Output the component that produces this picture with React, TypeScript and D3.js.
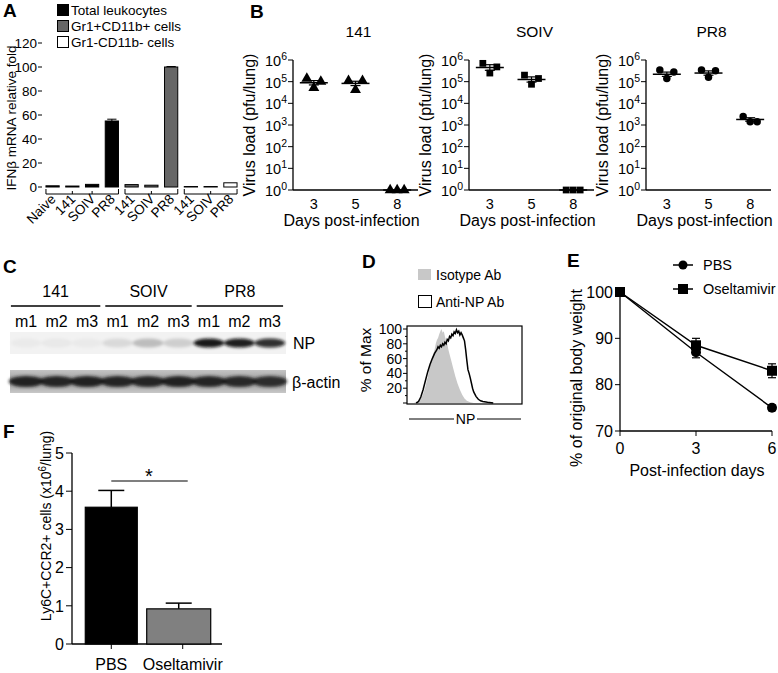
import React from 'react';
import * as d3 from 'd3';

const FONT = 'Liberation Sans, Arial, Helvetica, sans-serif';

// ---------- Panel A data ----------
const aCategories = ['Naive', '141', 'SOIV', 'PR8', '141', 'SOIV', 'PR8', '141', 'SOIV', 'PR8'];
const aGroupOf = [0, 0, 0, 0, 1, 1, 1, 2, 2, 2];
const aValues = [1.0, 0.8, 2.2, 55, 2.0, 1.5, 100, 0.4, 0.4, 3.5];
const aErrors = [0, 0, 0, 1.5, 0, 0, 0.4, 0, 0, 0];
const aSeries = ['Total leukocytes', 'Gr1+CD11b+ cells', 'Gr1-CD11b- cells'];
const aTicks = [0, 20, 40, 60, 80, 100, 120];

// ---------- Panel B data ----------
const bTitles = ['141', 'SOIV', 'PR8'];
const bDays = ['3', '5', '8'];
const bPoints141 = [[1.4e5, 5.2e4, 1.0e5], [1.1e5, 4.2e4, 1.1e5], [1, 1, 1]];
const bPointsSOIV = [[7.0e5, 2.5e5, 4.8e5], [2.0e5, 7.6e4, 1.4e5], [1, 1, 1]];
const bPointsPR8 = [[3.5e5, 1.4e5, 2.8e5], [3.5e5, 1.6e5, 3.2e5], [2.5e3, 1.4e3, 1.4e3]];
const bMean141 = [8.9e4, 8.3e4, 1];
const bMeanSOIV = [4.5e5, 1.26e5, 1];
const bMeanPR8 = [2.2e5, 2.5e5, 1.8e3];
const bErrLog141 = [0.1, 0.1, 0];
const bErrLogSOIV = [0.13, 0.12, 0];
const bErrLogPR8 = [0.1, 0.1, 0.08];
const bTickExps = [0, 1, 2, 3, 4, 5, 6];

// ---------- Panel C data ----------
const cGroups = ['141', 'SOIV', 'PR8'];
const cLanes = ['m1', 'm2', 'm3', 'm1', 'm2', 'm3', 'm1', 'm2', 'm3'];
const cNP = [0.03, 0.04, 0.03, 0.1, 0.22, 0.15, 0.95, 0.93, 0.85];
const cActin = [0.92, 0.9, 0.92, 0.9, 0.9, 0.92, 0.9, 0.88, 0.85];

// ---------- Panel D data ----------
const dIsoX = [6, 9, 12, 14, 16, 18, 20, 22, 24, 25, 26, 27, 28, 29, 30, 31, 32, 33, 34, 35, 36, 37, 38, 40, 42, 44, 46, 48, 50, 52, 55, 58];
const dIsoY = [0, 2, 6, 12, 22, 35, 50, 62, 72, 80, 85, 88, 93, 97, 100, 95, 97, 90, 84, 80, 72, 66, 60, 48, 36, 26, 18, 11, 6, 3, 1, 0];
const dAntiX = [8, 10, 12, 14, 16, 18, 20, 22, 24, 26, 27, 28, 29, 30, 31, 32, 33, 34, 35, 36, 37, 38, 39, 40, 41, 42, 43, 44, 45, 46, 47, 48, 49, 50, 51, 52, 53, 54, 55, 56, 57, 58, 60, 62, 64, 66, 70, 75];
const dAntiY = [0, 2, 8, 18, 30, 42, 52, 60, 67, 72, 76, 74, 78, 76, 80, 78, 82, 80, 86, 84, 90, 88, 93, 91, 96, 94, 99, 95, 97, 92, 95, 92, 88, 84, 72, 58, 45, 40, 34, 27, 20, 15, 9, 5, 3, 2, 1, 0];
const dTicks = [20, 40, 60, 80, 100];
const dLegend = ['Isotype Ab', 'Anti-NP Ab'];

// ---------- Panel E data ----------
const eDays = [0, 3, 6];
const ePBS = [100, 87, 75];
const ePBSErr = [0.3, 1.2, 0.6];
const eOsel = [100, 88.5, 83];
const eOselErr = [0.3, 1.5, 1.5];
const eYTicks = [70, 80, 90, 100];
const eSeries = ['PBS', 'Oseltamivir'];

// ---------- Panel F data ----------
const fCategories = ['PBS', 'Oseltamivir'];
const fValues = [3.58, 0.92];
const fErrors = [0.44, 0.15];
const fTicks = [0, 1, 2, 3, 4, 5];

const PanelLabel = ({ x, y, t }: { x: number; y: number; t: string }) => (
  <text x={x} y={y} fontSize={19} fontWeight="bold">{t}</text>
);

function PanelA() {
  const x = d3.scaleBand<number>().domain(d3.range(aValues.length)).range([43, 240]).paddingInner(0.33).paddingOuter(0.15);
  const y = d3.scaleLinear().domain([0, 120]).range([187, 43]);
  const fills = ['#000', '#666', '#fff'];
  const bw = x.bandwidth();
  const groups = [0, 1, 2].map(g => {
    const idx = d3.range(aValues.length).filter(i => aGroupOf[i] === g);
    return { x1: x(idx[0])!, x2: x(idx[idx.length - 1])! + bw, idx };
  });
  return (
    <g>
      <PanelLabel x={3} y={17} t="A" />
      {aSeries.map((s, i) => (
        <g key={s}>
          <rect x={57.5} y={4.5 + i * 16} width={11} height={11} fill={fills[i]} stroke="#000" />
          <text x={71} y={15 + i * 16} fontSize={13.5}>{s}</text>
        </g>
      ))}
      {aTicks.map(t => (
        <g key={t}>
          <line x1={38} x2={42} y1={y(t)} y2={y(t)} stroke="#000" />
          <text x={37} y={y(t)} dy="0.36em" fontSize={13.5} textAnchor="end">{t}</text>
        </g>
      ))}
      <text transform={`translate(11,${y(60) + 3}) rotate(-90)`} fontSize={13.5} dy="0.35em" textAnchor="middle">IFNβ mRNA relative fold</text>
      {aValues.map((v, i) => (
        <rect key={i} x={x(i)} y={y(v)} width={bw} height={y(0) - y(v)} fill={fills[aGroupOf[i]]} stroke="#000" strokeWidth={1} />
      ))}
      {aErrors.map((e, i) => e > 0 ? (
        <g key={'e' + i} stroke="#000">
          <line x1={x(i)! + bw / 2} x2={x(i)! + bw / 2} y1={y(aValues[i])} y2={y(aValues[i] + e)} />
          <line x1={x(i)! + 2} x2={x(i)! + bw - 2} y1={y(aValues[i] + e)} y2={y(aValues[i] + e)} />
        </g>
      ) : null)}
      {groups.map((g, gi) => (
        <g key={gi} stroke="#000" fill="none">
          <path d={`M${g.x1},189 V194 H${g.x2} V189`} />
          {g.idx.slice(1, -1).map(i => (
            <line key={i} x1={x(i)! + bw / 2} x2={x(i)! + bw / 2} y1={194} y2={191} />
          ))}
        </g>
      ))}
      {aCategories.map((c, i) => (
        <text key={i} transform={`translate(${x(i)! + bw / 2 + 4},${200}) rotate(-45)`} fontSize={13.5} textAnchor="end">{c}</text>
      ))}
    </g>
  );
}

function PanelB() {
  const origins = [293, 469, 646];
  const w = 125;
  const y = d3.scaleLog().domain([1, 1e6]).range([190, 60]);
  const pts = [bPoints141, bPointsSOIV, bPointsPR8];
  const means = [bMean141, bMeanSOIV, bMeanPR8];
  const errs = [bErrLog141, bErrLogSOIV, bErrLogPR8];
  const syms = [d3.symbolTriangle, d3.symbolSquare, d3.symbolCircle];
  const sizes = [52, 46, 44];
  const offs = [-7, 0, 7];
  return (
    <g>
      <PanelLabel x={250} y={18} t="B" />
      {bTitles.map((t, p) => {
        const x0 = origins[p];
        const x = d3.scalePoint<string>().domain(bDays).range([x0, x0 + w]).padding(0.5);
        const sym = d3.symbol().type(syms[p]).size(sizes[p]);
        return (
          <g key={t}>
            <text x={x0 + w / 2 + 3} y={37} fontSize={15.5} textAnchor="middle">{t}</text>
            <line x1={x0} x2={x0} y1={y(1e6)} y2={y(1)} stroke="#000" strokeWidth={1.3} />
            <line x1={x0} x2={x0 + w} y1={y(1)} y2={y(1)} stroke="#000" strokeWidth={1.3} />
            {bTickExps.map(k => (
              <g key={k}>
                <line x1={x0 - 5} x2={x0} y1={y(Math.pow(10, k))} y2={y(Math.pow(10, k))} stroke="#000" />
                <text x={x0 - 6} y={y(Math.pow(10, k))} dy="0.42em" fontSize={14.5} textAnchor="end">
                  10<tspan dy="-6" fontSize={10.5}>{k}</tspan>
                </text>
              </g>
            ))}
            <text transform={`translate(${x0 - 38},${125}) rotate(-90)`} fontSize={16} textAnchor="middle">Virus load (pfu/lung)</text>
            {bDays.map((d) => (
              <text key={d} x={x(d)} y={209} fontSize={14.5} textAnchor="middle">{d}</text>
            ))}
            <text x={x0 + w / 2 - 4} y={226} fontSize={16} textAnchor="middle">Days post-infection</text>
            {bDays.map((d, di) => {
              const cx = x(d)!;
              const m = means[p][di];
              const e = errs[p][di];
              return (
                <g key={'m' + d}>
                  {pts[p][di].map((v, k) => (
                    <path key={k} d={sym()!} transform={`translate(${cx + offs[k]},${y(v)})`} fill="#000" />
                  ))}
                  <line x1={cx - 14} x2={cx + 14} y1={y(m)} y2={y(m)} stroke="#000" strokeWidth={1.5} />
                  {e > 0 && (
                    <g stroke="#000" strokeWidth={1.2}>
                      <line x1={cx} x2={cx} y1={y(m * Math.pow(10, e))} y2={y(m / Math.pow(10, e))} />
                      <line x1={cx - 5} x2={cx + 5} y1={y(m * Math.pow(10, e))} y2={y(m * Math.pow(10, e))} />
                      <line x1={cx - 5} x2={cx + 5} y1={y(m / Math.pow(10, e))} y2={y(m / Math.pow(10, e))} />
                    </g>
                  )}
                </g>
              );
            })}
          </g>
        );
      })}
    </g>
  );
}

function PanelC() {
  const x = d3.scaleBand<number>().domain(d3.range(cLanes.length)).range([10, 286]).padding(0.06);
  const bw = x.bandwidth();
  const step = x.step();
  return (
    <g>
      <PanelLabel x={3} y={273} t="C" />
      <defs>
        <filter id="blotBlur" x="-20%" y="-50%" width="140%" height="200%">
          <feGaussianBlur stdDeviation="1.6" />
        </filter>
        <linearGradient id="actinBg" x1="0" x2="0" y1="0" y2="1">
          <stop offset="0" stopColor="#c4c4c4" />
          <stop offset="0.5" stopColor="#9a9a9a" />
          <stop offset="1" stopColor="#c8c8c8" />
        </linearGradient>
      </defs>
      {cGroups.map((g, gi) => {
        const x1 = x(gi * 3)! - step * 0.03 + (gi === 0 ? 0 : 3);
        const x2 = x(gi * 3 + 2)! + bw + step * 0.03 - 2;
        return (
          <g key={g}>
            <text x={(x1 + x2) / 2} y={297} fontSize={16} textAnchor="middle">{g}</text>
            <line x1={x1} x2={x2} y1={306} y2={306} stroke="#000" strokeWidth={1.3} />
          </g>
        );
      })}
      {cLanes.map((l, i) => (
        <text key={i} x={x(i)! + bw / 2} y={327} fontSize={16} textAnchor="middle">{l}</text>
      ))}
      <rect x={10} y={332} width={276} height={22} fill="#f2f2f2" />
      <g filter="url(#blotBlur)">
        {cNP.map((v, i) => (
          <ellipse key={i} cx={x(i)! + bw / 2} cy={343} rx={bw / 2 + 1} ry={4.5} fill="#111" opacity={v} />
        ))}
      </g>
      <rect x={10} y={370} width={276} height={23} fill="url(#actinBg)" />
      <g filter="url(#blotBlur)">
        {cActin.map((v, i) => (
          <ellipse key={i} cx={x(i)! + bw / 2} cy={381.5} rx={bw / 2 + 3} ry={5.5} fill="#1a1a1a" opacity={v} />
        ))}
      </g>
      <text x={293} y={349} fontSize={16}>NP</text>
      <text x={292} y={388} fontSize={16}>β-actin</text>
    </g>
  );
}

function PanelD() {
  const x = d3.scaleLinear().domain([0, 100]).range([407, 522]);
  const y = d3.scaleLinear().domain([0, 100]).range([403, 329]);
  const area = d3.area<number>().x((_, i) => x(dIsoX[i])).y0(y(0)).y1((d) => y(d));
  const line = d3.line<number>().x((_, i) => x(dAntiX[i])).y((d) => y(d));
  return (
    <g>
      <PanelLabel x={362} y={268} t="D" />
      <rect x={418} y={269} width={13} height={11} fill="#c8c8c8" />
      <text x={436} y={280} fontSize={14}>{dLegend[0]}</text>
      <rect x={418.5} y={295.5} width={13} height={12} fill="#fff" stroke="#000" />
      <text x={436} y={307} fontSize={14}>{dLegend[1]}</text>
      <path d={area(dIsoY)!} fill="#c8c8c8" />
      <path d={line(dAntiY)!} fill="none" stroke="#000" strokeWidth={1.5} />
      <rect x={407} y={326} width={115} height={78} fill="none" stroke="#000" strokeWidth={1.2} />
      {d3.range(0, 101, 10).map(t => (
        <line key={t} x1={t % 20 === 0 ? 403 : 405} x2={407} y1={y(t)} y2={y(t)} stroke="#000" />
      ))}
      {dTicks.map(t => (
        <text key={t} x={402} y={y(t)} dy="0.36em" fontSize={14} textAnchor="end">{t}</text>
      ))}
      <text transform={`translate(371,${360}) rotate(-90)`} fontSize={15.5} textAnchor="middle">% of Max</text>
      <line x1={409} x2={454} y1={419} y2={419} stroke="#000" />
      <line x1={477} x2={521} y1={419} y2={419} stroke="#000" />
      <text x={465.5} y={424} fontSize={14} textAnchor="middle">NP</text>
    </g>
  );
}

function PanelE() {
  const x = d3.scaleLinear().domain([0, 6]).range([620, 772]);
  const y = d3.scaleLinear().domain([70, 100]).range([431, 292]);
  const line = d3.line<number>().x((_, i) => x(eDays[i])).y(d => y(d));
  const errBar = (vals: number[], errs: number[], k: string) => vals.map((v, i) => errs[i] > 0.5 ? (
    <g key={k + i} stroke="#000" strokeWidth={1.2}>
      <line x1={x(eDays[i])} x2={x(eDays[i])} y1={y(v + errs[i])} y2={y(v - errs[i])} />
      <line x1={x(eDays[i]) - 4} x2={x(eDays[i]) + 4} y1={y(v + errs[i])} y2={y(v + errs[i])} />
      <line x1={x(eDays[i]) - 4} x2={x(eDays[i]) + 4} y1={y(v - errs[i])} y2={y(v - errs[i])} />
    </g>
  ) : null);
  return (
    <g>
      <PanelLabel x={567} y={267} t="E" />
      <line x1={673} x2={693} y1={265} y2={265} stroke="#000" strokeWidth={1.5} />
      <circle cx={683} cy={265} r={4.5} fill="#000" />
      <text x={703} y={270} fontSize={14.5}>{eSeries[0]}</text>
      <line x1={673} x2={693} y1={289} y2={289} stroke="#000" strokeWidth={1.5} />
      <rect x={678} y={284} width={10} height={10} fill="#000" />
      <text x={703} y={294} fontSize={14.5}>{eSeries[1]}</text>
      <line x1={620} x2={620} y1={y(100)} y2={y(70)} stroke="#000" strokeWidth={1.3} />
      <line x1={620} x2={772} y1={y(70)} y2={y(70)} stroke="#000" strokeWidth={1.3} />
      {eYTicks.map(t => (
        <g key={t}>
          <line x1={615} x2={620} y1={y(t)} y2={y(t)} stroke="#000" />
          <text x={613} y={y(t)} dy="0.36em" fontSize={16} textAnchor="end">{t}</text>
        </g>
      ))}
      {eDays.map(d => (
        <g key={d}>
          <line x1={x(d)} x2={x(d)} y1={y(70)} y2={y(70) + 5} stroke="#000" />
          <text x={x(d)} y={454} fontSize={16} textAnchor="middle">{d}</text>
        </g>
      ))}
      <text x={697} y={476} fontSize={16} textAnchor="middle">Post-infection days</text>
      <text transform={`translate(582,${378}) rotate(-90)`} fontSize={16} textAnchor="middle">% of original body weight</text>
      <path d={line(ePBS)!} fill="none" stroke="#000" strokeWidth={1.4} />
      <path d={line(eOsel)!} fill="none" stroke="#000" strokeWidth={1.4} />
      {errBar(ePBS, ePBSErr, 'p')}
      {errBar(eOsel, eOselErr, 'o')}
      {ePBS.map((v, i) => <circle key={'pc' + i} cx={x(eDays[i])} cy={y(v)} r={5} fill="#000" />)}
      {eOsel.map((v, i) => <rect key={'os' + i} x={x(eDays[i]) - 5} y={y(v) - 5} width={10} height={10} fill="#000" />)}
    </g>
  );
}

function PanelF() {
  const x = d3.scaleBand<string>().domain(fCategories).range([72, 222]).paddingInner(0.3).paddingOuter(0.2);
  const y = d3.scaleLinear().domain([0, 5]).range([644, 453]);
  const fills = ['#000', '#808080'];
  const widths = [52, 64];
  return (
    <g>
      <PanelLabel x={3} y={438} t="F" />
      <line x1={72} x2={72} y1={y(5)} y2={y(0)} stroke="#000" strokeWidth={1.3} />
      <line x1={72} x2={222} y1={y(0)} y2={y(0)} stroke="#000" strokeWidth={1.3} />
      {fTicks.map(t => (
        <g key={t}>
          <line x1={66} x2={72} y1={y(t)} y2={y(t)} stroke="#000" />
          <text x={64} y={y(t)} dy="0.36em" fontSize={16} textAnchor="end">{t}</text>
        </g>
      ))}
      <text transform={`translate(51,${526}) rotate(-90)`} fontSize={14} textAnchor="middle">
        Ly6C+CCR2+ cells (x10<tspan dy="-5" fontSize={10}>6</tspan><tspan dy="5">/lung)</tspan>
      </text>
      {fCategories.map((c, i) => {
        const cx = x(c)! + x.bandwidth() / 2;
        const bx = cx - widths[i] / 2 - (i === 1 ? 4 : 0);
        const top = y(fValues[i] + fErrors[i]);
        return (
          <g key={c}>
            <line x1={bx + widths[i] / 2} x2={bx + widths[i] / 2} y1={top} y2={y(fValues[i])} stroke="#000" strokeWidth={1.5} />
            <line x1={bx + widths[i] / 2 - 13} x2={bx + widths[i] / 2 + 13} y1={top} y2={top} stroke="#000" strokeWidth={1.5} />
            <rect x={bx} y={y(fValues[i])} width={widths[i]} height={y(0) - y(fValues[i])} fill={fills[i]} stroke="#000" strokeWidth={1.2} />
            <line x1={cx} x2={cx} y1={y(0)} y2={y(0) + 5} stroke="#000" />
            <text x={cx} y={670} fontSize={16} textAnchor="middle">{c}</text>
          </g>
        );
      })}
      <line x1={x('PBS')! + x.bandwidth() / 2} x2={x('Oseltamivir')! + x.bandwidth() / 2 + 5} y1={481} y2={481} stroke="#000" strokeWidth={1.2} />
      <text x={149} y={483} fontSize={20} textAnchor="middle">*</text>
    </g>
  );
}

export default function App() {
  return (
    <div style={{ position: 'absolute', left: 0, top: 0 }}>
      <svg width={778} height={673} style={{ display: 'block', background: '#fff' }} fontFamily={FONT}>
        <rect width={778} height={673} fill="#fff" />
        <PanelA />
        <PanelB />
        <PanelC />
        <PanelD />
        <PanelE />
        <PanelF />
      </svg>
    </div>
  );
}
